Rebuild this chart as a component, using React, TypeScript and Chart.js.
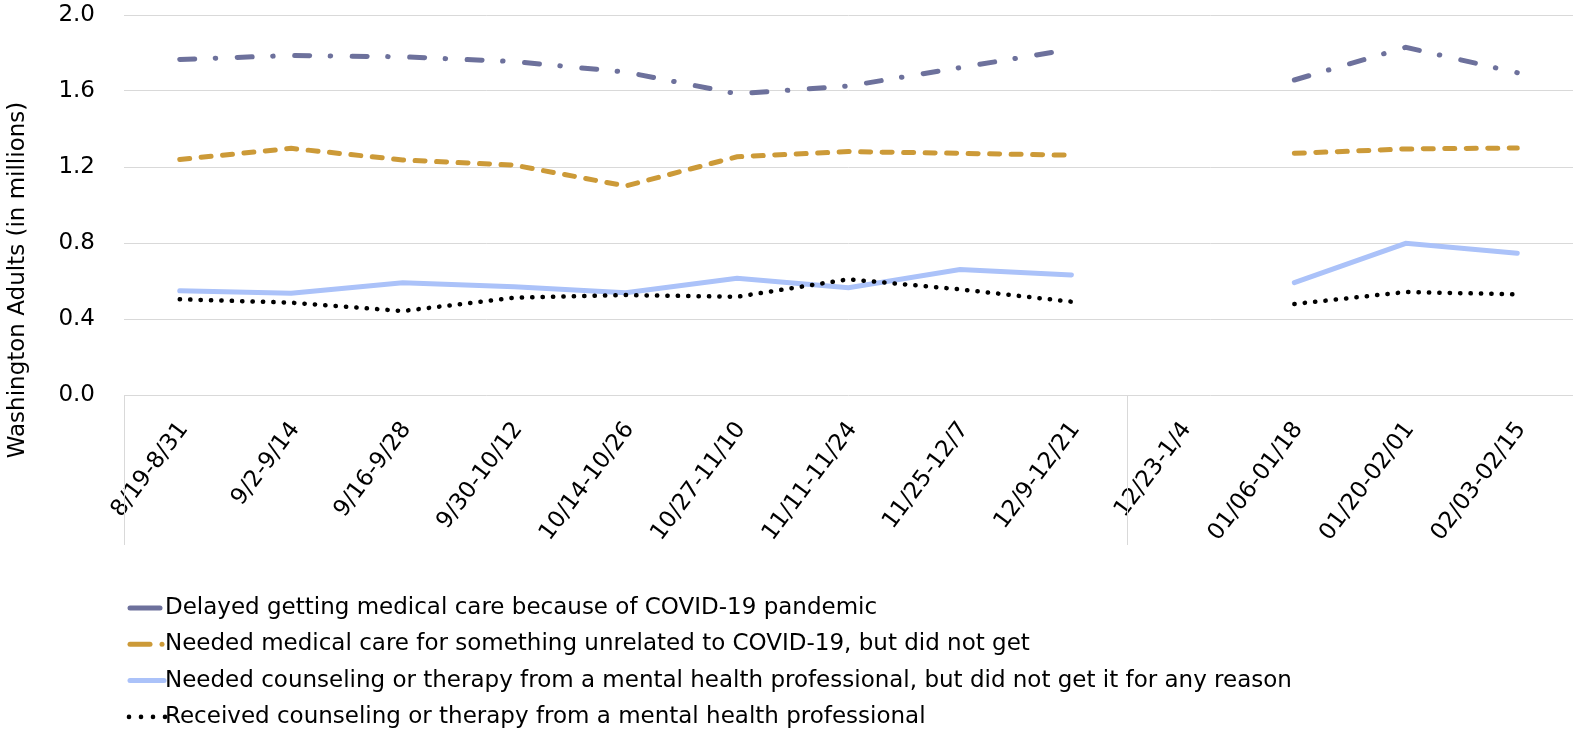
import React, { useEffect, useRef } from "react";
import { Chart, registerables } from "chart.js";

Chart.register(...registerables);

const categories = [
  "8/19-8/31", "9/2-9/14", "9/16-9/28", "9/30-10/12", "10/14-10/26", "10/27-11/10",
  "11/11-11/24", "11/25-12/7", "12/9-12/21", "12/23-1/4", "01/06-01/18", "01/20-02/01", "02/03-02/15",
];

const delayedCare = [1.766, 1.787, 1.78, 1.755, 1.70, 1.585, 1.626, 1.723, 1.82, null, 1.658, 1.83, 1.696];
const unrelatedCare = [1.240, 1.298, 1.237, 1.21, 1.10, 1.254, 1.281, 1.272, 1.262, null, 1.272, 1.295, 1.30];
const neededCounseling = [0.549, 0.535, 0.591, 0.570, 0.538, 0.614, 0.565, 0.661, 0.632, null, 0.591, 0.798, 0.746];
const receivedCounseling = [0.504, 0.486, 0.442, 0.512, 0.526, 0.517, 0.609, 0.556, 0.491, null, 0.479, 0.542, 0.530];

const seriesNames = [
  "Delayed getting medical care because of COVID-19 pandemic",
  "Needed medical care for something unrelated to COVID-19, but did not get",
  "Needed counseling or therapy from a mental health professional, but did not get it for any reason",
  "Received counseling or therapy from a mental health professional",
];

const yTicks = [0, 0.4, 0.8, 1.2, 1.6, 2.0];
const yTitle = "Washington Adults (in millions)";
const dividerAfterIndex = 8;

const COLORS = ["#6d719c", "#cc9a38", "#abc2f9", "#000000"];
const FONT = "'DejaVu Sans', sans-serif";

export default function App() {
  const ref = useRef<HTMLCanvasElement | null>(null);

  useEffect(() => {
    const canvas = ref.current;
    if (!canvas) return;

    const decor = {
      id: "decor",
      afterDraw(chart: any) {
        const { ctx, chartArea, scales } = chart;
        const xs = scales.x;
        ctx.save();
        // category separators below the axis
        ctx.strokeStyle = "#d9d9d9";
        ctx.lineWidth = 1;
        for (const v of [-0.5, dividerAfterIndex + 0.5]) {
          const px = Math.round(xs.getPixelForValue(v)) + 0.5;
          ctx.beginPath();
          ctx.moveTo(px, chartArea.bottom);
          ctx.lineTo(px, chartArea.bottom + 150);
          ctx.stroke();
        }
        // y title
        ctx.fillStyle = "#000";
        ctx.font = `23px ${FONT}`;
        ctx.translate(18, (chartArea.top + chartArea.bottom + 150) / 2);
        ctx.rotate(-Math.PI / 2);
        ctx.textAlign = "center";
        ctx.textBaseline = "middle";
        ctx.fillText(yTitle, 0, 0);
        ctx.restore();

        // legend
        ctx.save();
        const lx = chartArea.left + 4;
        const tx = chartArea.left + 41;
        ctx.font = `23px ${FONT}`;
        ctx.textAlign = "left";
        ctx.textBaseline = "middle";
        seriesNames.forEach((name, i) => {
          const y = chartArea.bottom + 213 + i * 36.3;
          ctx.strokeStyle = COLORS[i];
          ctx.fillStyle = COLORS[i];
          ctx.lineCap = "round";
          ctx.lineWidth = 5;
          ctx.setLineDash([]);
          if (i === 0) {
            ctx.beginPath(); ctx.moveTo(lx + 2, y); ctx.lineTo(lx + 32, y); ctx.stroke();
          } else if (i === 1) {
            ctx.beginPath(); ctx.moveTo(lx + 2, y); ctx.lineTo(lx + 22, y); ctx.stroke();
            ctx.beginPath(); ctx.arc(lx + 34, y, 2.5, 0, Math.PI * 2); ctx.fill();
          } else if (i === 2) {
            ctx.beginPath(); ctx.moveTo(lx + 2, y); ctx.lineTo(lx + 36, y); ctx.stroke();
          } else {
            for (let k = 0; k < 4; k++) {
              ctx.beginPath(); ctx.arc(lx + 1 + k * 12, y, 2.3, 0, Math.PI * 2); ctx.fill();
            }
          }
          ctx.fillStyle = "#000";
          ctx.fillText(name, tx, y);
        });
        ctx.restore();
      },
    };

    const chart = new Chart(canvas, {
      type: "line",
      data: {
        labels: categories,
        datasets: [
          {
            label: seriesNames[0], data: delayedCare, borderColor: COLORS[0], borderWidth: 5,
            borderDash: [15, 20.5, 0.5, 21.5], borderCapStyle: "round",
          },
          {
            label: seriesNames[1], data: unrelatedCare, borderColor: COLORS[1], borderWidth: 5,
            borderDash: [10, 11.5], borderCapStyle: "round",
          },
          {
            label: seriesNames[2], data: neededCounseling, borderColor: COLORS[2], borderWidth: 5,
            borderCapStyle: "round",
          },
          {
            label: seriesNames[3], data: receivedCounseling, borderColor: COLORS[3], borderWidth: 4.5,
            borderDash: [0.3, 10.1], borderCapStyle: "round", order: -1,
          },
        ],
      },
      options: {
        responsive: false,
        animation: false,
        spanGaps: false,
        elements: { point: { radius: 0, hoverRadius: 0 }, line: { tension: 0, fill: false } },
        layout: { padding: { top: 15, bottom: 186, left: 0, right: 0 } },
        plugins: { legend: { display: false }, tooltip: { enabled: false } },
        scales: {
          x: {
            type: "category",
            offset: true,
            grid: { display: false },
            border: { display: false },
            ticks: {
              autoSkip: false,
              minRotation: 53,
              maxRotation: 53,
              padding: 14,
              labelOffset: 4,
              color: "#000",
              font: { family: FONT, size: 23 },
            },
            afterFit(scale: any) {
              scale.height = 150;
              scale.paddingLeft = 0;
              scale.paddingRight = 0;
            },
          },
          y: {
            min: 0,
            max: 2,
            afterBuildTicks(scale: any) {
              scale.ticks = yTicks.map((v) => ({ value: v }));
            },
            grid: { color: "#d9d9d9", lineWidth: 1, drawTicks: false },
            border: { display: false },
            ticks: {
              padding: 29,
              color: "#000",
              font: { family: FONT, size: 23 },
              callback: (v: any) => Number(v).toFixed(1),
            },
            afterFit(scale: any) {
              scale.width = 124;
              scale.paddingTop = 0;
              scale.paddingBottom = 0;
            },
          },
        },
      },
      plugins: [decor],
    });

    return () => chart.destroy();
  }, []);

  return (
    <div style={{ position: "fixed", left: 0, top: 0, width: 1573, height: 731, background: "#fff" }}>
      <canvas ref={ref} width={1573} height={731} style={{ width: 1573, height: 731, display: "block" }} />
    </div>
  );
}
